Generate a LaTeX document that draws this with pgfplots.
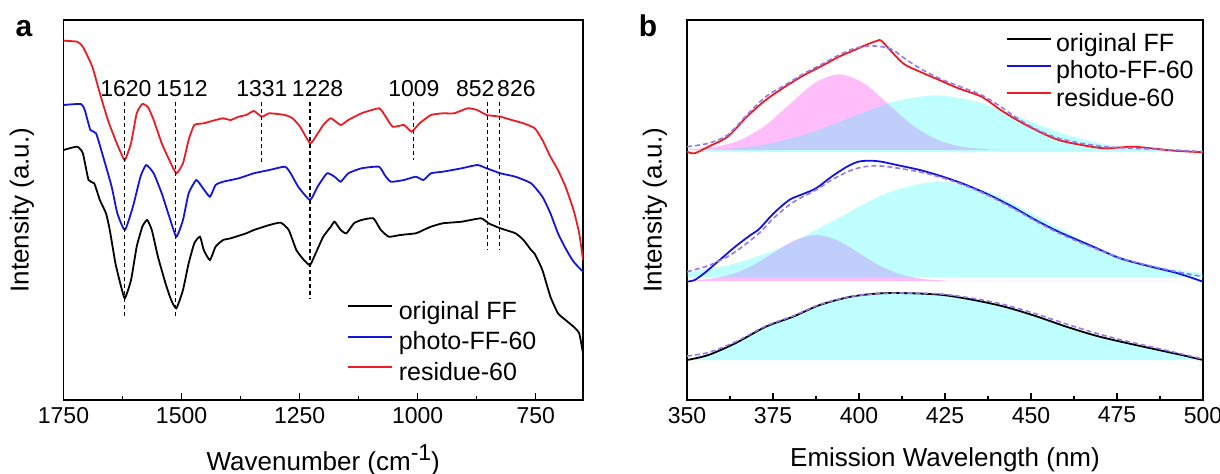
\documentclass[border=0pt]{standalone}
\usepackage{fontspec}
\setmainfont{Liberation Sans}
\usepackage{pgfplots}
\pgfplotsset{compat=1.18}
\usepgfplotslibrary{fillbetween}
\definecolor{cred}{RGB}{237,28,36}
\definecolor{cblue}{RGB}{20,20,220}
\definecolor{cfit}{RGB}{150,120,230}
\definecolor{ccyan}{RGB}{0,255,255}
\definecolor{cmag}{RGB}{255,0,230}
\begin{document}
\begin{tikzpicture}
\pgfplotsset{
  panel/.style={
    scale only axis, height=190pt, ymin=0, ymax=380, ytick=\empty,
    tick align=inside, xtick pos=left, minor x tick num=1,
    major tick length=3.5pt, minor tick length=2pt,
    axis line style={line width=0.8pt},
    every tick/.style={black, line width=0.7pt},
    every minor tick/.style={black, line width=0.7pt},
    /pgf/number format/assume math mode=true,
    /pgf/number format/1000 sep={},
    tick label style={font=\fontsize{11.5}{13}\selectfont},
    label style={font=\fontsize{13}{15}\selectfont},
    xlabel style={at={(axis description cs:0.5,0)}, anchor=center, yshift=-30pt},
    legend cell align=left,
    legend image code/.code={\draw[##1] (0pt,3.2pt) -- (22pt,3.2pt);},
  }
}
% ---------------- panel a ----------------
\begin{axis}[panel, at={(31.75pt,36.5pt)}, anchor=south west, width=259.75pt,
  x dir=reverse, xmin=650, xmax=1750, xtick={1750,1500,1250,1000,750},
  xlabel={Wavenumber (cm\raisebox{0.7ex}{\fontsize{11.5}{13}\selectfont -1})},
  ylabel={Intensity (a.u.)},
  ylabel style={at={(axis description cs:-0.08,0.5)}, anchor=center},
  legend style={draw=none, fill=none, at={(0.545,0.262)}, anchor=north west,
    inner sep=0pt, row sep=3.4pt, column sep=3pt,
    nodes={inner sep=0pt, text height=9.2pt, text depth=2.6pt, font=\fontsize{12.5}{15}\selectfont}},
]
\addlegendimage{black, line width=0.9pt}
\addlegendentry{original FF}
\addlegendimage{cblue, line width=0.9pt}
\addlegendentry{photo-FF-60}
\addlegendimage{cred, line width=0.9pt}
\addlegendentry{residue-60}
\addplot[forget plot, black, line width=0.9pt, smooth, tension=0.3] coordinates {
(1750,250)(1721,253.3)(1709,246.7)(1697,220)(1685,216.7)(1673,200)(1660,186.7)(1652,170)(1640,136.7)(1628,113.3)(1620,101.7)(1607,120)(1595,153.3)(1583,173.3)(1573,180)(1563,170)(1550,143.3)(1534,116.7)(1522,100)(1511,91.7)(1497,110)(1485,136.7)(1473,156.7)(1461,163.3)(1453,150)(1440,140)(1428,153.3)(1412,160)(1396,161.7)(1363,166.7)(1347,170)(1314,175)(1290,177.3)(1273,170)(1257,150)(1241,140)(1228,135)(1216,146.7)(1200,163.3)(1184,173.3)(1176,178.3)(1163,170)(1151,166.7)(1135,176.7)(1119,180)(1094,181.7)(1078,170)(1061,163.3)(1037,165)(1004,166.7)(988,170)(972,173.3)(947,176.7)(907,178.3)(866,181.7)(850,176.7)(825,171.7)(793,166.7)(776,160)(760,150)(752,146)(736,130)(719,103.3)(703,86.7)(687,80)(670,73.3)(658,66.7)(650,46.7)};
\addplot[forget plot, cblue, line width=0.9pt, smooth, tension=0.3] coordinates {
(1750,295)(1713,296)(1705,290)(1693,270)(1681,266.7)(1664,240)(1648,213.3)(1636,186.7)(1620,170)(1603,193.3)(1587,223.3)(1575,235)(1559,226.7)(1542,206.7)(1526,183.3)(1511,163.3)(1497,180)(1485,206.7)(1469,220)(1457,213.3)(1440,203.3)(1428,215)(1412,218.3)(1379,221.7)(1347,226.7)(1314,230)(1281,233.3)(1269,226.7)(1253,213.3)(1228,200)(1212,213.3)(1192,226.7)(1176,223.3)(1163,218.3)(1147,226.7)(1119,231.7)(1082,233.3)(1070,225)(1057,218.3)(1029,220)(1004,223.3)(988,220)(972,226.7)(947,228.3)(907,231.7)(874,235)(854,231.7)(825,226.7)(793,223.3)(760,216.7)(736,203.3)(719,186.7)(703,166.7)(687,151.7)(670,138.3)(650,128.3)};
\addplot[forget plot, cred, line width=0.9pt, smooth, tension=0.3] coordinates {
(1750,359.3)(1721,358.3)(1709,353.3)(1689,333.3)(1673,306.7)(1656,280)(1640,260)(1628,246.7)(1620,240)(1607,256.7)(1595,286.7)(1583,296)(1571,292.7)(1559,280)(1542,256.7)(1526,240)(1511,226.7)(1497,236.7)(1485,260)(1473,275)(1453,276.7)(1428,280)(1412,281.7)(1396,280)(1379,283.3)(1363,285)(1347,289)(1330,283.3)(1314,286.7)(1281,285)(1265,281.7)(1249,273.3)(1228,256.7)(1216,263.3)(1200,275)(1184,281.7)(1163,275)(1147,280)(1119,286.7)(1082,291.7)(1070,285)(1053,273.3)(1029,275)(1013,268.3)(996,276.7)(972,285)(947,286.7)(923,286.7)(894,291.7)(874,290)(854,285)(825,283.3)(801,280)(776,276.7)(752,271.7)(736,260)(719,243.3)(703,230)(687,213.3)(670,190)(658,166.7)(650,140)};
\addplot[forget plot, black, line width=0.6pt, dash pattern=on 2pt off 1.5pt] coordinates {(1620,298)(1620,81.7)};
\addplot[forget plot, black, line width=0.6pt, dash pattern=on 2pt off 1.5pt] coordinates {(1512,298)(1512,83.3)};
\addplot[forget plot, black, line width=0.6pt, dash pattern=on 2pt off 1.5pt] coordinates {(1331,298)(1331,238.3)};
\addplot[forget plot, black, line width=0.6pt, dash pattern=on 2pt off 1.5pt] coordinates {(1228,298)(1228,101.7)};
\addplot[forget plot, black, line width=0.6pt, dash pattern=on 2pt off 1.5pt] coordinates {(1009,298)(1009,240)};
\addplot[forget plot, black, line width=0.6pt, dash pattern=on 2pt off 1.5pt] coordinates {(852,298)(852,150)};
\addplot[forget plot, black, line width=0.6pt, dash pattern=on 2pt off 1.5pt] coordinates {(826,298)(826,150)};
\begin{scope}[every node/.style={font=\fontsize{11.5}{13}\selectfont, anchor=center}]
\node at (axis cs:1618,311.5) {1620};
\node at (axis cs:1499,311.5) {1512};
\node at (axis cs:1330,311.5) {1331};
\node at (axis cs:1212,311.5) {1228};
\node at (axis cs:1008,311.5) {1009};
\node at (axis cs:878,311.5) {852};
\node at (axis cs:791,311.5) {826};
\end{scope}
\end{axis}
% ---------------- panel b ----------------
\begin{axis}[panel, at={(343.5pt,36.5pt)}, anchor=south west, width=258pt,
  xmin=350, xmax=500, xtick={350,375,...,500},
  xlabel={Emission Wavelength (nm)},
  ylabel={Intensity (a.u.)},
  ylabel style={at={(axis description cs:-0.062,0.5)}, anchor=center},
  legend style={draw=none, fill=none, at={(0.618,0.966)}, anchor=north west,
    inner sep=0pt, row sep=1.8pt, column sep=2pt,
    nodes={inner sep=0pt, text height=9.2pt, text depth=2.6pt, font=\fontsize{12.5}{15}\selectfont}},
]
\addlegendimage{black, line width=0.9pt}
\addlegendentry{original FF}
\addlegendimage{cblue, line width=0.9pt}
\addlegendentry{photo-FF-60}
\addlegendimage{cred, line width=0.9pt}
\addlegendentry{residue-60}
% baselines
\addplot[forget plot, draw=none, name path=bpt] coordinates {(350,250)(500,250)};
\addplot[forget plot, draw=none, name path=bct] coordinates {(350,248)(500,248)};
\addplot[forget plot, draw=none, name path=bpm] coordinates {(350,119)(500,119)};
\addplot[forget plot, draw=none, name path=bcm] coordinates {(350,123)(500,123)};
\addplot[forget plot, draw=none, name path=bcb] coordinates {(350,40)(500,40)};
% components
\addplot[forget plot, draw=none, smooth, name path=gpt] coordinates {
(350,250.6)(358.5,253.3)(365.6,260.2)(372.8,274.6)(379.9,295.9)(387.05,316.8)(394.2,325.7)(401.35,316.8)(408.5,295.9)(415.65,274.6)(422.8,260.2)(429.95,253.3)(437.1,250.8)(444.3,250.2)(500,250)};
\addplot[forget plot, draw=none, smooth, name path=gct] coordinates {
(350,248.8)(360.45,250.5)(372.8,255.7)(385.15,266.4)(397.5,282.4)(409.85,298.0)(422.2,304.7)(434.55,298.0)(446.9,282.4)(459.25,266.4)(471.6,255.7)(483.95,250.5)(496.3,248.6)(500,248.4)};
\addplot[forget plot, draw=none, smooth, name path=gpm] coordinates {
(350,119.5)(356.25,121.0)(362.5,125.2)(368.75,133.9)(375,146.9)(381.25,159.6)(387.5,165)(393.75,159.6)(400,146.9)(406.25,133.9)(412.5,125.2)(418.75,121.0)(425,119.5)(431.25,119.1)(500,119)};
\addplot[forget plot, draw=none, smooth, name path=gcm] coordinates {
(350,127.8)(363.3,135.9)(378.3,153.9)(393.3,180.8)(408.3,207.1)(423.3,218.3)(438.3,207.1)(453.3,180.8)(468.3,153.9)(483.3,135.9)(500,126.6)};
\addplot[forget plot, draw=none, smooth, name path=gcb] coordinates {
(350,40)(356.2,45)(364,56.7)(372.9,73.3)(380.8,83.3)(388.6,95)(397.6,103.3)(406.5,106.7)(415.5,106.7)(424.4,105)(433.4,100)(442.3,93.3)(451.3,84)(460.3,73.3)(469.2,64)(478.2,56.7)(487.1,50)(493.8,45)(500,40)};
\addplot[forget plot, cmag, fill opacity=0.26, draw=none] fill between[of=gpt and bpt];
\addplot[forget plot, ccyan, fill opacity=0.25, draw=none] fill between[of=gct and bct];
\addplot[forget plot, cmag, fill opacity=0.26, draw=none] fill between[of=gpm and bpm];
\addplot[forget plot, ccyan, fill opacity=0.25, draw=none] fill between[of=gcm and bcm];
\addplot[forget plot, ccyan, fill opacity=0.25, draw=none] fill between[of=gcb and bcb];
% measured spectra
\addplot[forget plot, black, line width=0.9pt, smooth] coordinates {
(350,40)(356.2,45)(364,56.7)(372.9,73.3)(380.8,83.3)(388.6,95)(397.6,103.3)(406.5,106.7)(415.5,106.7)(424.4,105)(433.4,100)(442.3,93.3)(451.3,84)(460.3,73.3)(469.2,64)(478.2,56.7)(487.1,50)(493.8,45)(500,40)};
\addplot[forget plot, cblue, line width=0.9pt, smooth] coordinates {
(350,118.3)(352.2,120)(355,126.7)(359.5,140)(364,153.3)(368.5,165)(370.7,170)(375.2,186.7)(379.7,200)(383,205)(387.5,211.7)(392,223.3)(396.5,233.3)(399.8,238.3)(403.2,239.3)(406.5,238.3)(411,235)(417.7,230)(424.4,223.3)(431.2,215)(437.9,205)(444.6,193.3)(451.3,180)(458,168.3)(464.7,158.3)(468.1,153.3)(475.9,141.7)(484.9,133.3)(492.7,126.7)(500,118.3)};
\addplot[forget plot, cred, line width=0.9pt, smooth] coordinates {
(350,248.3)(352.2,246.7)(356.2,253.3)(361.8,263.3)(367.4,283.3)(372.9,300)(378.5,313.3)(384.1,325)(389.7,335)(394.2,343.3)(398.7,350)(403.2,356.7)(405.4,359.3)(406.5,359.3)(409.9,346.7)(413.2,335.7)(417.7,328.3)(423.3,320)(428.9,311.7)(435.6,303.3)(441.2,290)(446.8,278.3)(452.4,268.3)(458,260)(464.7,255)(471.5,251.7)(479.3,253.3)(484.9,251.7)(491.6,249.3)(500,247.7)};
% cumulative fits
\addplot[forget plot, cfit, line width=0.8pt, dash pattern=on 2.5pt off 1.5pt, smooth] coordinates {
(350,44)(356.2,47.5)(364,58)(372.9,74)(380.8,84)(388.6,95.5)(397.6,103.5)(406.5,106.5)(415.5,107)(424.4,105.8)(433.4,101.5)(442.3,95.3)(451.3,86.3)(460.3,76)(469.2,66.5)(478.2,58.5)(487.1,51.5)(493.8,46)(500,41)};
\addplot[forget plot, cfit, line width=0.8pt, dash pattern=on 2.5pt off 1.5pt, smooth] coordinates {
(350,128.3)(356.7,135)(363.4,146.7)(370.7,166)(375.2,182)(379.7,195)(383,202)(387.5,210)(392,220)(396.5,228)(399.8,232)(403.2,234)(406.5,234)(411,232)(417.7,228)(424.4,222)(431.2,214)(437.9,204)(444.6,192)(451.3,179)(458,167)(464.7,157)(475.9,142)(484.9,134)(492.7,128)(500,123.3)};
\addplot[forget plot, cfit, line width=0.8pt, dash pattern=on 2.5pt off 1.5pt, smooth] coordinates {
(350,253.3)(356.2,256.7)(361.8,265)(367.4,285)(372.9,303.3)(378.5,315)(384.1,326.7)(389.7,336.7)(394.2,345)(398.7,351.7)(403.2,354)(406.5,353.3)(409.9,350)(413.2,341.7)(417.7,331.7)(423.3,321.7)(428.9,314)(435.6,305)(441.2,293.3)(446.8,280)(452.4,269.3)(458,261.7)(464.7,256.7)(471.5,253.3)(479.3,251.7)(491.6,250)(500,248.3)};
\end{axis}
\node[font=\fontsize{15}{17}\selectfont\bfseries, anchor=base] at (12pt,218.5pt) {a};
\node[font=\fontsize{15}{17}\selectfont\bfseries, anchor=base] at (324pt,218.5pt) {b};
\pgfresetboundingbox
\useasboundingbox (0,0) rectangle (610pt,236.5pt);
\end{tikzpicture}
\end{document}
